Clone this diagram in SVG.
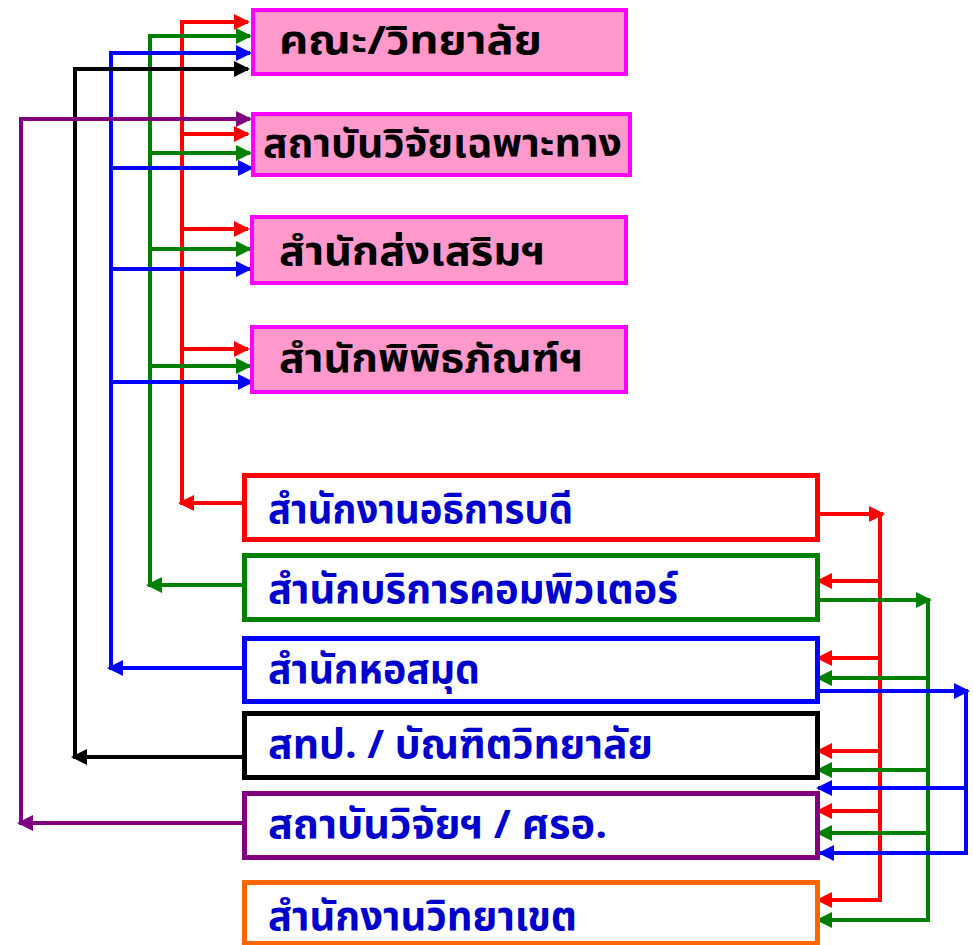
<svg xmlns="http://www.w3.org/2000/svg" width="973" height="945" viewBox="0 0 973 945">
<style>
.pink{fill:#FF99CC;stroke:#FF00FF;stroke-width:4}
.ob{fill:#FFFFFF;stroke-width:5}
.t{font-family:"Noto Sans Thai","Noto Sans","DejaVu Sans",sans-serif;font-weight:bold}
.tk{fill:#000000;font-size:39px}
.tb{fill:#0000CC;font-size:40px}
.c{fill:none;stroke-width:4;stroke-linejoin:miter;stroke-linecap:butt}
</style>
<defs>
<marker id="aR" viewBox="0 0 16 16" markerWidth="16" markerHeight="16" markerUnits="userSpaceOnUse" refX="14" refY="8" orient="auto"><path d="M0,0L16,8L0,16z" fill="#FF0000"/></marker>
<marker id="aG" viewBox="0 0 16 16" markerWidth="16" markerHeight="16" markerUnits="userSpaceOnUse" refX="14" refY="8" orient="auto"><path d="M0,0L16,8L0,16z" fill="#008000"/></marker>
<marker id="aB" viewBox="0 0 16 16" markerWidth="16" markerHeight="16" markerUnits="userSpaceOnUse" refX="14" refY="8" orient="auto"><path d="M0,0L16,8L0,16z" fill="#0000FF"/></marker>
<marker id="aK" viewBox="0 0 16 16" markerWidth="16" markerHeight="16" markerUnits="userSpaceOnUse" refX="14" refY="8" orient="auto"><path d="M0,0L16,8L0,16z" fill="#000000"/></marker>
<marker id="aP" viewBox="0 0 16 16" markerWidth="16" markerHeight="16" markerUnits="userSpaceOnUse" refX="14" refY="8" orient="auto"><path d="M0,0L16,8L0,16z" fill="#800080"/></marker>
</defs>

<g id="connectors">
  <!-- left side: red -->
  <g stroke="#FF0000" class="c">
    <path d="M182,505V20"/>
    <path d="M180,22H248" marker-end="url(#aR)"/>
    <path d="M182,134H248" marker-end="url(#aR)"/>
    <path d="M182,229H248" marker-end="url(#aR)"/>
    <path d="M182,349H248" marker-end="url(#aR)"/>
    <path d="M243,503H180" marker-end="url(#aR)"/>
  </g>
  <!-- left side: green -->
  <g stroke="#008000" class="c">
    <path d="M150,587V34"/>
    <path d="M148,36H250" marker-end="url(#aG)"/>
    <path d="M150,153H250" marker-end="url(#aG)"/>
    <path d="M150,249H250" marker-end="url(#aG)"/>
    <path d="M150,366H250" marker-end="url(#aG)"/>
    <path d="M243,585H148" marker-end="url(#aG)"/>
  </g>
  <!-- left side: blue -->
  <g stroke="#0000FF" class="c">
    <path d="M111,670V51"/>
    <path d="M109,53H250" marker-end="url(#aB)"/>
    <path d="M111,168H252" marker-end="url(#aB)"/>
    <path d="M111,269H250" marker-end="url(#aB)"/>
    <path d="M111,382H252" marker-end="url(#aB)"/>
    <path d="M243,668H109" marker-end="url(#aB)"/>
  </g>
  <!-- left side: black -->
  <g stroke="#000000" class="c">
    <path d="M75,759V67"/>
    <path d="M73,69H248" marker-end="url(#aK)"/>
    <path d="M243,757H73" marker-end="url(#aK)"/>
  </g>
  <!-- left side: purple -->
  <g stroke="#800080" class="c">
    <path d="M21,825V117"/>
    <path d="M19,119H250" marker-end="url(#aP)"/>
    <path d="M243,823H19" marker-end="url(#aP)"/>
  </g>
  <!-- right side: red -->
  <g stroke="#FF0000" class="c">
    <path d="M820,514H883" marker-end="url(#aR)"/>
    <path d="M880,512V902"/>
    <path d="M882,581H818" marker-end="url(#aR)"/>
    <path d="M882,658H818" marker-end="url(#aR)"/>
    <path d="M882,751H818" marker-end="url(#aR)"/>
    <path d="M882,811H818" marker-end="url(#aR)"/>
    <path d="M882,900H818" marker-end="url(#aR)"/>
  </g>
  <!-- right side: green -->
  <g stroke="#008000" class="c">
    <path d="M820,600H930" marker-end="url(#aG)"/>
    <path d="M928,598V922"/>
    <path d="M930,678H818" marker-end="url(#aG)"/>
    <path d="M930,770H818" marker-end="url(#aG)"/>
    <path d="M930,833H818" marker-end="url(#aG)"/>
    <path d="M930,920H818" marker-end="url(#aG)"/>
  </g>
  <!-- right side: blue -->
  <g stroke="#0000FF" class="c">
    <path d="M820,691H968" marker-end="url(#aB)"/>
    <path d="M966,689V855"/>
    <path d="M968,788H818" marker-end="url(#aB)"/>
    <path d="M968,853H820" marker-end="url(#aB)"/>
  </g>
</g>

<g id="n-faculty">
  <rect class="pink" x="253" y="10" width="373" height="64"/>
  <text class="t tk" x="279" y="54" textLength="263" lengthAdjust="spacingAndGlyphs">คณะ/วิทยาลัย</text>
</g>
<g id="n-research-inst">
  <rect class="pink" x="253" y="114" width="377" height="61"/>
  <text class="t tk" x="263" y="157" textLength="359" lengthAdjust="spacingAndGlyphs">สถาบันวิจัยเฉพาะทาง</text>
</g>
<g id="n-promotion">
  <rect class="pink" x="252" y="217" width="374" height="66"/>
  <text class="t tk" x="279" y="265" textLength="266" lengthAdjust="spacingAndGlyphs">สำนักส่งเสริมฯ</text>
</g>
<g id="n-museum">
  <rect class="pink" x="252" y="327" width="374" height="65"/>
  <text class="t tk" x="279" y="372" textLength="304" lengthAdjust="spacingAndGlyphs">สำนักพิพิธภัณฑ์ฯ</text>
</g>

<g id="n-president">
  <rect class="ob" stroke="#FF0000" x="244.5" y="475.5" width="573" height="64"/>
  <text class="t tb" x="268" y="523" textLength="305" lengthAdjust="spacingAndGlyphs">สำนักงานอธิการบดี</text>
</g>
<g id="n-computer">
  <rect class="ob" stroke="#008000" x="244.5" y="555.5" width="573" height="64"/>
  <text class="t tb" x="268" y="603" textLength="410" lengthAdjust="spacingAndGlyphs">สำนักบริการคอมพิวเตอร์</text>
</g>
<g id="n-library">
  <rect class="ob" stroke="#0000FF" x="244.5" y="638.5" width="573" height="63"/>
  <text class="t tb" x="268" y="683" textLength="212" lengthAdjust="spacingAndGlyphs">สำนักหอสมุด</text>
</g>
<g id="n-graduate">
  <rect class="ob" stroke="#000000" x="244.5" y="713.5" width="573" height="64"/>
  <text class="t tb" x="268" y="758" textLength="385" lengthAdjust="spacingAndGlyphs">สทป. / บัณฑิตวิทยาลัย</text>
</g>
<g id="n-research">
  <rect class="ob" stroke="#800080" x="244.5" y="793.5" width="573" height="64"/>
  <text class="t tb" x="268" y="838" textLength="339" lengthAdjust="spacingAndGlyphs">สถาบันวิจัยฯ / ศรอ.</text>
</g>
<g id="n-campus">
  <rect class="ob" stroke="#FF6600" x="244.5" y="882.5" width="573" height="61"/>
  <text class="t tb" x="268" y="930" textLength="309" lengthAdjust="spacingAndGlyphs">สำนักงานวิทยาเขต</text>
</g>
</svg>
